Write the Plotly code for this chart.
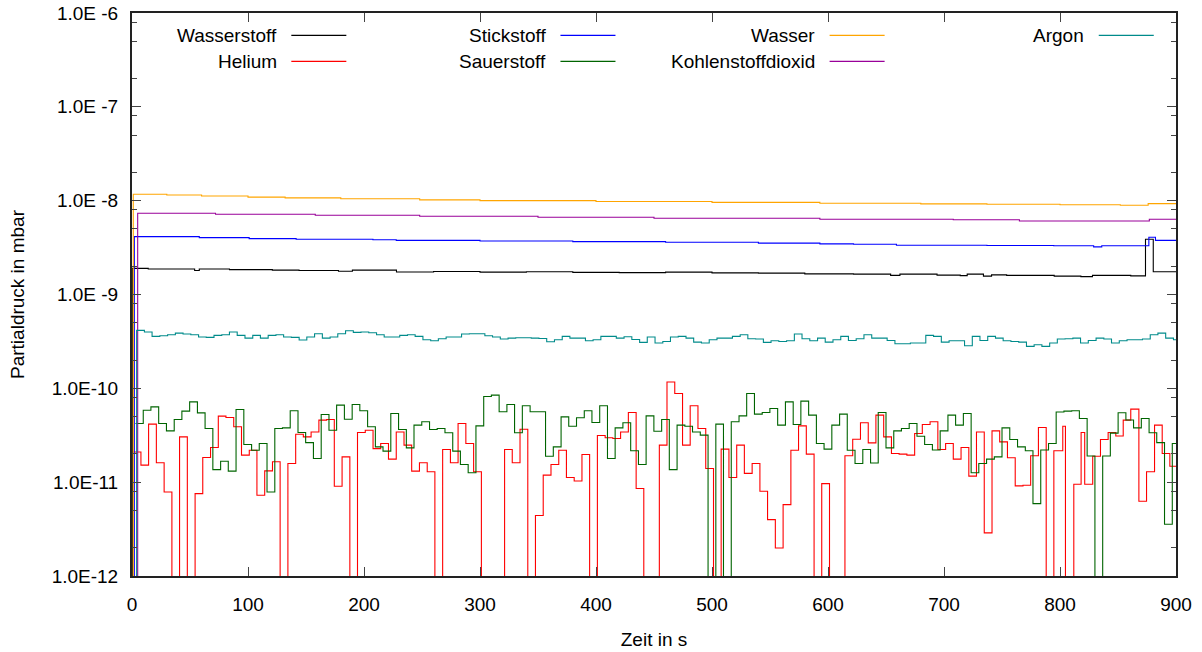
import plotly.graph_objects as go

Z = 1e-13  # below the plotted range (signal at/under detection limit)

# regular sampling grid of the mass spectrometer (s)
t_grid = [
    1.0, 7.7, 14.3, 21.0, 27.7, 34.4, 41.0, 47.7, 54.4, 61.0,
    67.7, 74.4, 81.0, 87.7, 94.4, 101.1, 107.7, 114.4, 121.1, 127.7,
    134.4, 141.1, 147.7, 154.4, 161.1, 167.8, 174.4, 181.1, 187.8, 194.4,
    201.1, 207.8, 214.4, 221.1, 227.8, 234.5, 241.1, 247.8, 254.5, 261.1,
    267.8, 274.5, 281.1, 287.8, 294.5, 301.2, 307.8, 314.5, 321.2, 327.8,
    334.5, 341.2, 347.8, 354.5, 361.2, 367.9, 374.5, 381.2, 387.9, 394.5,
    401.2, 407.9, 414.5, 421.2, 427.9, 434.6, 441.2, 447.9, 454.6, 461.2,
    467.9, 474.6, 481.2, 487.9, 494.6, 501.3, 507.9, 514.6, 521.3, 527.9,
    534.6, 541.3, 547.9, 554.6, 561.3, 568.0, 574.6, 581.3, 588.0, 594.6,
    601.3, 608.0, 614.6, 621.3, 628.0, 634.7, 641.3, 648.0, 654.7, 661.3,
    668.0, 674.7, 681.3, 688.0, 694.7, 701.4, 708.0, 714.7, 721.4, 728.0,
    734.7, 741.4, 748.0, 754.7, 761.4, 768.1, 774.7, 781.4, 788.1, 794.7,
    801.4, 808.1, 814.7, 821.4, 828.1, 834.8, 841.4, 848.1, 854.8, 861.4,
    868.1, 874.8, 881.4, 888.1, 894.8,
]

# Helium
he_t = t_grid[:120] + [802.4, 804.7, 811.9, 818.2, 821.3, 828.2, 834.9, 841.5,
                       848.1, 854.5, 861.0, 868.0, 874.6, 881.5, 888.1, 894.7]
he_v = [
    2.10e-11, 1.52e-11, 4.15e-11, 1.61e-11, 7.87e-12, Z, 3.04e-11, Z, 7.55e-12, 1.83e-11,
    2.34e-11, 5.05e-11, 4.89e-11, 3.89e-11, 1.94e-11, 2.19e-11, 7.26e-12, 1.32e-11, 1.65e-11, Z,
    1.58e-11, 3.24e-11, 3.04e-11, 3.43e-11, 4.58e-11, 4.66e-11, 9.06e-12, 1.86e-11, Z, 3.38e-11,
    3.58e-11, 2.28e-11, 2.58e-11, 1.76e-11, 3.43e-11, 2.48e-11, 1.31e-11, 1.61e-11, 1.29e-11, Z,
    2.23e-11, 1.61e-11, 4.22e-11, 2.58e-11, 1.29e-11, Z, Z, Z, 2.23e-11, 1.61e-11,
    3.67e-11, Z, 4.41e-12, 1.19e-11, 1.54e-11, 2.19e-11, 1.12e-11, 1.03e-11, 1.97e-11, Z,
    3.14e-11, 2.97e-11, 2.92e-11, 3.43e-11, 5.53e-11, 8.55e-12, Z, Z, 2.48e-11, 1.17e-10,
    8.81e-11, 2.48e-11, 6.52e-11, 3.73e-11, 1.40e-11, Z, 2.25e-11, 1.12e-11, 2.48e-11, 1.24e-11,
    1.58e-11, 8.00e-12, 3.99e-12, 1.99e-12, 5.77e-12, 2.19e-11, 3.98e-11, 1.99e-11, Z, 9.66e-12,
    Z, Z, 1.91e-11, 2.87e-11, 4.29e-11, 2.62e-11, 5.18e-11, 3.04e-11, 2.02e-11, 1.99e-11,
    1.94e-11, 3.30e-11, 4.12e-11, 4.40e-11, 2.23e-11, 2.58e-11, 1.76e-11, 2.34e-11, 1.16e-11, 3.43e-11,
    2.88e-12, 3.52e-11, 2.69e-11, 1.82e-11, 9.12e-12, 9.27e-12, 1.91e-11, 3.82e-11, Z, 2.16e-11,
    3.95e-11, Z, 9.5e-12, 3.38e-11, 9.5e-12, 1.89e-11, 2.85e-11, 3.38e-11, 3.11e-11, 4.58e-11,
    6.0e-11, 6.27e-12, 1.29e-11, 4.05e-11, 2.02e-11, 1.48e-11,
]

# Sauerstoff (measured ~2 s after helium in each cycle)
o2_offset = 2.0
o2_v = [
    4.22e-11, 5.85e-11, 6.35e-11, 4.22e-11, 3.52e-11, 4.66e-11, 5.71e-11, 7.18e-11, 5.48e-11, 3.73e-11,
    1.36e-11, 1.67e-11, 1.31e-11, 5.95e-11, 2.52e-11, 2.19e-11, 2.58e-11, 7.87e-12, 3.73e-11, 3.79e-11,
    5.76e-11, 3.38e-11, 2.64e-11, 1.79e-11, 5.26e-11, 3.58e-11, 6.62e-11, 4.69e-11, 6.73e-11, 5.76e-11,
    3.89e-11, 2.38e-11, 2.14e-11, 5.40e-11, 3.64e-11, 2.32e-11, 4.05e-11, 4.40e-11, 3.64e-11, 3.73e-11,
    3.36e-11, 2.14e-11, 1.54e-11, 1.26e-11, 3.98e-11, 8.19e-11, 8.47e-11, 5.62e-11, 6.73e-11, 3.36e-11,
    6.52e-11, 5.62e-11, 5.62e-11, 1.89e-11, 2.38e-11, 4.96e-11, 3.95e-11, 4.85e-11, 5.76e-11, 4.33e-11,
    6.52e-11, 1.79e-11, 3.79e-11, 4.29e-11, 2.16e-11, 1.54e-11, 5.09e-11, 3.49e-11, 4.66e-11, 1.36e-11,
    4.05e-11, 3.95e-11, 3.43e-11, 3.17e-11, Z, 4.15e-11, Z, 4.40e-11, 5.09e-11, 8.81e-11,
    5.31e-11, 5.53e-11, 6.10e-11, 4.05e-11, 7.18e-11, 4.11e-11, 7.30e-11, 5.18e-11, 2.58e-11, 2.25e-11,
    4.05e-11, 5.31e-11, 2.19e-11, 1.58e-11, 2.23e-11, 1.60e-11, 5.53e-11, 2.32e-11, 3.52e-11, 3.73e-11,
    4.22e-11, 3.09e-11, 2.52e-11, 2.20e-11, 3.52e-11, 5.18e-11, 4.05e-11, 5.40e-11, 1.26e-11, 1.58e-11,
    1.76e-11, 1.86e-11, 3.79e-11, 2.85e-11, 2.38e-11, 2.16e-11, 5.91e-12, 2.20e-11, 2.58e-11, 5.60e-11,
    5.72e-11, 5.76e-11, 4.77e-11, 1.90e-11, Z, 1.90e-11, 3.33e-11, 5.50e-11, 4.60e-11, 3.79e-11,
    4.77e-11, 3.36e-11, 2.64e-11, 3.56e-12, 2.58e-11,
]

# Argon (measured ~3 s after helium in each cycle)
ar_offset = 3.0
ar_v = [
    4.15e-10, 3.98e-10, 3.58e-10, 3.64e-10, 3.73e-10, 3.88e-10, 3.79e-10, 3.73e-10, 3.52e-10, 3.49e-10,
    3.67e-10, 3.73e-10, 3.98e-10, 3.67e-10, 3.43e-10, 3.67e-10, 3.43e-10, 3.67e-10, 3.73e-10, 3.52e-10,
    3.49e-10, 3.27e-10, 3.52e-10, 3.82e-10, 3.43e-10, 3.52e-10, 3.82e-10, 4.11e-10, 3.95e-10, 3.98e-10,
    3.91e-10, 3.73e-10, 3.52e-10, 3.52e-10, 3.67e-10, 3.73e-10, 3.58e-10, 3.30e-10, 3.22e-10, 3.38e-10,
    3.52e-10, 3.52e-10, 3.79e-10, 3.82e-10, 3.82e-10, 3.64e-10, 3.52e-10, 3.35e-10, 3.43e-10, 3.46e-10,
    3.46e-10, 3.43e-10, 3.40e-10, 3.14e-10, 3.30e-10, 3.58e-10, 3.43e-10, 3.43e-10, 3.22e-10, 3.30e-10,
    3.58e-10, 3.58e-10, 3.43e-10, 3.55e-10, 3.32e-10, 3.09e-10, 3.52e-10, 3.04e-10, 3.16e-10, 3.52e-10,
    3.58e-10, 3.43e-10, 3.11e-10, 3.04e-10, 3.30e-10, 3.43e-10, 3.43e-10, 3.58e-10, 3.73e-10, 3.38e-10,
    3.35e-10, 3.09e-10, 3.22e-10, 3.16e-10, 3.22e-10, 3.79e-10, 3.38e-10, 3.22e-10, 3.43e-10, 3.11e-10,
    3.30e-10, 3.58e-10, 3.24e-10, 3.38e-10, 3.73e-10, 3.43e-10, 3.43e-10, 3.24e-10, 2.99e-10, 2.99e-10,
    3.04e-10, 3.04e-10, 3.67e-10, 3.58e-10, 3.11e-10, 3.22e-10, 3.22e-10, 2.84e-10, 3.58e-10, 3.24e-10,
    3.58e-10, 3.43e-10, 3.22e-10, 3.16e-10, 3.11e-10, 2.80e-10, 2.91e-10, 2.80e-10, 3.04e-10, 3.35e-10,
    3.38e-10, 3.43e-10, 3.04e-10, 3.24e-10, 3.43e-10, 3.35e-10, 3.04e-10, 3.22e-10, 3.30e-10, 3.30e-10,
    3.35e-10, 3.73e-10, 3.88e-10, 3.43e-10, 3.30e-10,
]

# Slowly varying gases (time, value) read at their change points
h2_t = [0.0, 0.3, 14, 54, 58, 84, 121, 144, 178, 190, 228, 260, 300, 340, 380, 420, 460,
        500, 540, 580, 622, 654, 662, 694, 714, 720, 734, 741, 754, 795, 818, 828, 861,
        873.7, 880.4]
h2_v = [Z, 1.90e-9, 1.87e-9, 1.80e-9, 1.87e-9, 1.84e-9, 1.82e-9, 1.80e-9, 1.77e-9, 1.82e-9,
        1.74e-9, 1.76e-9, 1.73e-9, 1.75e-9, 1.72e-9, 1.71e-9, 1.73e-9, 1.70e-9, 1.69e-9,
        1.66e-9, 1.65e-9, 1.60e-9, 1.65e-9, 1.61e-9, 1.59e-9, 1.65e-9, 1.57e-9, 1.62e-9,
        1.60e-9, 1.57e-9, 1.55e-9, 1.60e-9, 1.58e-9, 3.88e-9, 1.75e-9]

n2_t = [0.0, 2.0, 58, 101, 141.5, 207.7, 227.8, 300, 380, 460, 540, 593, 622, 659, 737,
        794.6, 829, 836, 876.6, 882.3]
n2_v = [Z, 4.14e-9, 4.04e-9, 3.94e-9, 3.88e-9, 3.83e-9, 3.77e-9, 3.72e-9, 3.66e-9, 3.60e-9,
        3.53e-9, 3.46e-9, 3.43e-9, 3.35e-9, 3.33e-9, 3.31e-9, 3.22e-9, 3.31e-9, 4.07e-9, 3.77e-9]

h2o_t = [0.0, 1.1, 30, 60, 100, 132, 180, 248, 300, 400, 500, 593, 680, 737, 800, 852, 876]
h2o_v = [Z, 1.17e-8, 1.15e-8, 1.12e-8, 1.09e-8, 1.07e-8, 1.05e-8, 1.02e-8, 1.00e-8, 9.8e-9,
         9.6e-9, 9.39e-9, 9.25e-9, 9.16e-9, 9.05e-9, 8.94e-9, 9.3e-9]

co2_t = [0.0, 4.9, 72, 158, 248, 350, 450, 593, 708, 765, 877]
co2_v = [Z, 7.34e-9, 7.16e-9, 6.99e-9, 6.82e-9, 6.65e-9, 6.5e-9, 6.34e-9, 6.25e-9, 6.08e-9, 6.34e-9]

x_ticks = [0, 100, 200, 300, 400, 500, 600, 700, 800, 900]
y_ticks = [1e-12, 1e-11, 1e-10, 1e-9, 1e-8, 1e-7, 1e-6]
y_ticktext = ["1.0E-12", "1.0E-11", "1.0E-10", "1.0E -9", "1.0E -8", "1.0E -7", "1.0E -6"]
y_minor = [m * 10.0 ** e for e in range(-12, -6) for m in (2, 5, 8)]

T_END = 900.0

names = ["Wasserstoff", "Helium", "Stickstoff", "Sauerstoff", "Wasser",
         "Kohlenstoffdioxid", "Argon"]
colors = ["#000000", "#ff0000", "#0000ff", "#006400", "#ffa500", "#990099", "#008b8b"]

o2_t = [round(t + o2_offset, 1) for t in t_grid]
ar_t = [0.0] + [round(t + ar_offset, 1) for t in t_grid]
ar_vals = [Z] + ar_v

series = [
    (h2_t, h2_v), (he_t, he_v), (n2_t, n2_v), (o2_t, o2_v),
    (h2o_t, h2o_v), (co2_t, co2_v), (ar_t, ar_vals),
]

FONT = "Liberation Sans, Arial, Helvetica, sans-serif"
FS = 19

fig = go.Figure()
for (t, v), name, col in zip(series, names, colors):
    fig.add_trace(go.Scatter(
        x=list(t) + [T_END], y=list(v) + [v[-1]], mode="lines", name=name,
        line=dict(color=col, width=1.1, shape="hv"),
        showlegend=False, hoverinfo="skip",
    ))

# gnuplot-style key: right-aligned text followed by a line sample, 4 columns x 2 rows
col_text_x = [0.1407, 0.3985, 0.6563, 0.9141]
row_y = [0.9602, 0.9139]
sample_len = 0.0527
sample_gap = 0.0119
key_pos = [(0, 0), (0, 1), (1, 0), (1, 1), (2, 0), (2, 1), (3, 0)]
for name, col, (c, r) in zip(names, colors, key_pos):
    fig.add_annotation(x=col_text_x[c], y=row_y[r], xref="paper", yref="paper",
                       text=name, showarrow=False, xanchor="right", yanchor="middle",
                       font=dict(family=FONT, size=FS, color="black"))
    x0 = col_text_x[c] + sample_gap
    fig.add_shape(type="line", xref="paper", yref="paper",
                  x0=x0, x1=x0 + sample_len, y0=row_y[r], y1=row_y[r],
                  line=dict(color=col, width=1.3))

axis_common = dict(
    ticks="inside", ticklen=9, tickwidth=1, tickcolor="#444",
    showline=True, linecolor="#222", linewidth=2, mirror="ticks",
    showgrid=False, zeroline=False, automargin=False,
    tickfont=dict(family=FONT, size=FS, color="black"),
)
fig.update_xaxes(
    range=[0, 900], tickmode="array", tickvals=x_ticks, ticklabelstandoff=10,
    title=dict(text="Zeit in s", font=dict(family=FONT, size=FS, color="black"), standoff=19),
    **axis_common,
)
fig.update_yaxes(
    type="log", range=[-12, -6], tickmode="array", tickvals=y_ticks, ticktext=y_ticktext,
    ticklabelstandoff=8,
    minor=dict(tickmode="array", tickvals=y_minor, ticks="inside", ticklen=5,
               tickwidth=1, tickcolor="#444", showgrid=False),
    title=dict(text="Partialdruck in mbar", font=dict(family=FONT, size=FS, color="black"), standoff=22),
    **axis_common,
)
fig.update_layout(
    width=1202, height=652,
    margin=dict(l=132, r=26, t=13, b=76),
    paper_bgcolor="white", plot_bgcolor="white",
    font=dict(family=FONT, size=FS, color="black"),
    showlegend=False,
)
fig.write_html("out.html")
